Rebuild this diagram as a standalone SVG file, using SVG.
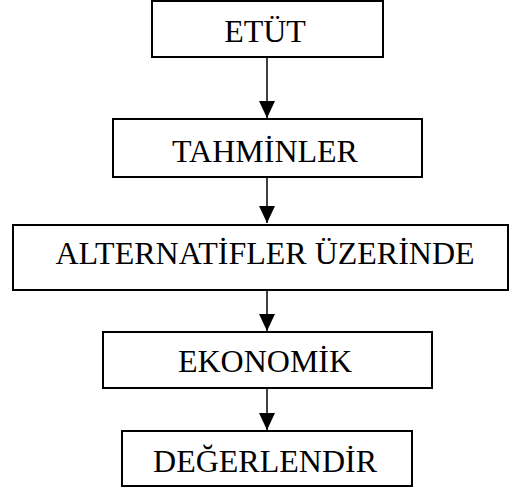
<svg xmlns="http://www.w3.org/2000/svg" width="510" height="490" viewBox="0 0 510 490">
<style>
.box{fill:#fff;stroke:#000;stroke-width:2}
.lbl{font-family:"Liberation Serif","Times New Roman",serif;font-size:32px;fill:#000;text-anchor:middle}
.arr{stroke:#000;stroke-width:1.5;fill:none;marker-end:url(#ah)}
</style>
<defs>
<marker id="ah" markerUnits="userSpaceOnUse" markerWidth="17" markerHeight="16" refX="17" refY="8" orient="auto" viewBox="0 0 17 16">
<path d="M0,0 L17,8 L0,16 z" fill="#000"/>
</marker>
</defs>
<rect width="510" height="490" fill="#fff"/>
<g id="connectors">
<line class="arr" x1="267" y1="57" x2="267" y2="118"/>
<line class="arr" x1="267" y1="177" x2="267" y2="223"/>
<line class="arr" x1="267" y1="290" x2="267" y2="331"/>
<line class="arr" x1="267" y1="388" x2="267" y2="430"/>
</g>
<g id="n1"><rect class="box" x="152" y="1" width="231" height="56"/><text class="lbl" x="265" y="42">ETÜT</text></g>
<g id="n2"><rect class="box" x="113" y="119" width="309" height="58"/><text class="lbl" x="265" y="162">TAHMİNLER</text></g>
<g id="n3"><rect class="box" x="13" y="225" width="495" height="65"/><text class="lbl" x="265" y="264">ALTERNATİFLER ÜZERİNDE</text></g>
<g id="n4"><rect class="box" x="103" y="332" width="329" height="56"/><text class="lbl" x="265" y="372">EKONOMİK</text></g>
<g id="n5"><rect class="box" x="122" y="431" width="290" height="55"/><text class="lbl" x="265" y="472">DEĞERLENDİR</text></g>
</svg>
